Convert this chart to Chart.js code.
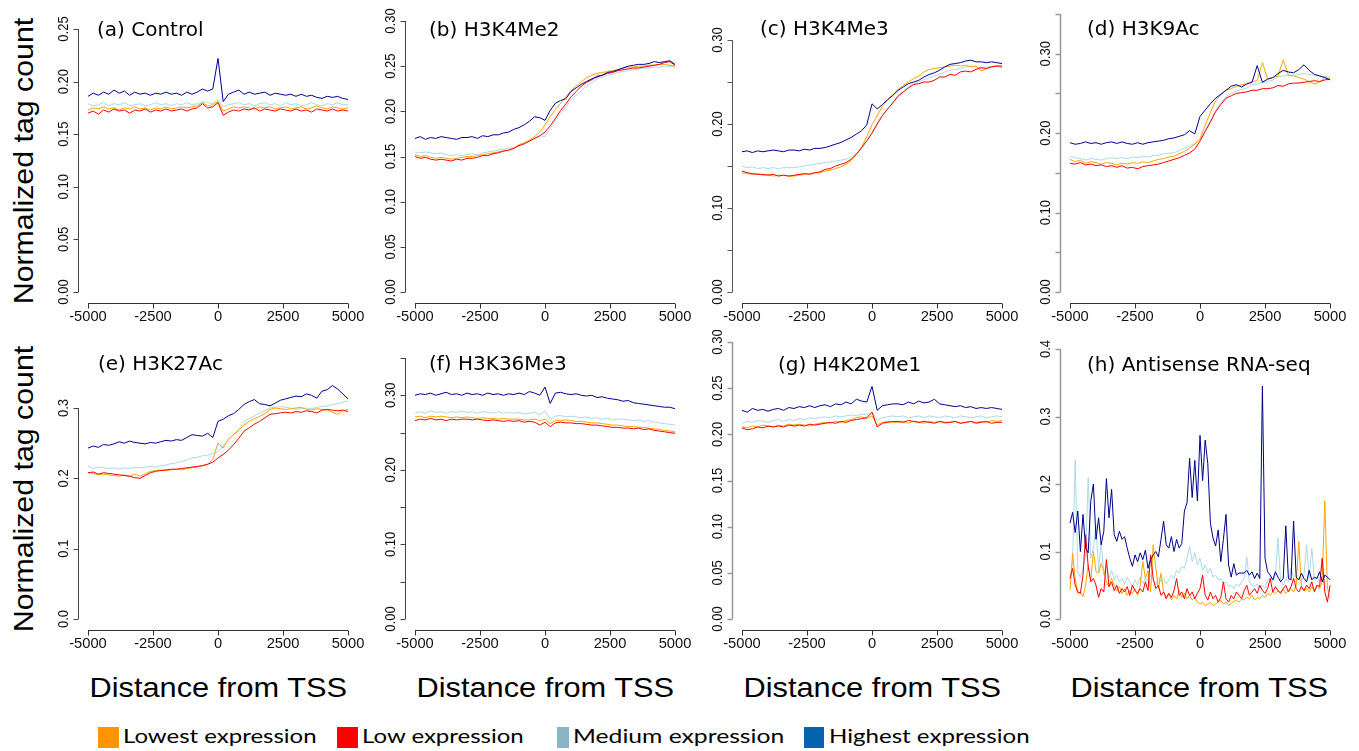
<!DOCTYPE html>
<html lang="en">
<head>
<meta charset="utf-8">
<title>Normalized tag count around the TSS</title>
<script src="https://cdn.jsdelivr.net/npm/chart.js@4.4.0/dist/chart.umd.min.js"></script>
<style>
  body { margin: 0; background: #fff; }
  #page { position: relative; width: 1359px; height: 751px; overflow: hidden; background: #fff; }
  .ttl { position: absolute; font-family: "Liberation Sans", Arial, sans-serif; font-size: 28px; line-height: 28px; white-space: nowrap; color: #000; }
  .leg { position: absolute; font-family: Lato, "Open Sans", sans-serif; font-size: 20px; line-height: 20px; white-space: nowrap; color: #000; transform-origin: 0 50%; }
  .sq { position: absolute; top: 727px; height: 21px; }
</style>
</head>
<body>
<div id="page">
  <div class="ttl ytitle" data-cx="24" data-cy="161" data-w="287">Normalized tag count</div>
  <div class="ttl ytitle" data-cx="24" data-cy="489" data-w="287">Normalized tag count</div>
  <div class="ttl xtitle" data-cx="218" data-w="257">Distance from TSS</div>
  <div class="ttl xtitle" data-cx="545" data-w="257">Distance from TSS</div>
  <div class="ttl xtitle" data-cx="872" data-w="257">Distance from TSS</div>
  <div class="ttl xtitle" data-cx="1199" data-w="257">Distance from TSS</div>

  <div class="sq" style="left:98px;width:21px;background:#ff9400"></div>
  <div class="leg" data-x="123" data-w="193">Lowest expression</div>
  <div class="sq" style="left:337px;width:21px;background:#ff0000"></div>
  <div class="leg" data-x="362" data-w="162">Low expression</div>
  <div class="sq" style="left:557px;width:12px;background:#89b5c6"></div>
  <div class="leg" data-x="573" data-w="211">Medium expression</div>
  <div class="sq" style="left:804px;width:20px;background:#0563b0"></div>
  <div class="leg" data-x="829" data-w="201">Highest expression</div>
</div>

<script>
// x positions of the profile bins (bp from TSS)
const pos200 = [];
for (let x = -5000; x <= 5000; x += 200) pos200.push(x);
const pos100 = [];
for (let x = -5000; x <= 5000; x += 100) pos100.push(x);
const xTicks = [-5000, -2500, 0, 2500, 5000];

// (a) Control
const ctlLowest = [
  .173,.175,.174,.176,.174,.175,.173,.175,.174,.176,
  .174,.175,.173,.175,.174,.176,.174,.175,.176,.175,
  .176,.177,.180,.177,.178,.181,.172,.174,.176,.175,
  .176,.175,.174,.176,.175,.176,.174,.175,.176,.174,
  .175,.176,.174,.175,.177,.175,.174,.176,.175,.174,
  .175];
const ctlLow = [
  .170,.172,.169,.173,.171,.174,.172,.173,.170,.173,
  .172,.174,.171,.173,.172,.174,.172,.173,.174,.172,
  .174,.175,.179,.175,.176,.180,.168,.171,.173,.172,
  .174,.173,.175,.172,.174,.173,.172,.174,.173,.172,
  .174,.172,.173,.171,.174,.173,.172,.174,.172,.173,
  .172];
const ctlMedium = [
  .179,.177,.178,.180,.177,.179,.178,.180,.177,.178,
  .179,.177,.178,.180,.178,.179,.177,.179,.178,.180,
  .178,.179,.181,.180,.179,.183,.176,.178,.179,.180,
  .178,.179,.177,.179,.180,.178,.179,.177,.180,.178,
  .179,.177,.178,.180,.178,.177,.179,.178,.180,.178,
  .178];
const ctlHighest = [
  .186,.189,.187,.190,.188,.192,.189,.191,.187,.190,
  .188,.189,.187,.189,.188,.190,.188,.189,.187,.190,
  .188,.190,.193,.191,.193,.222,.181,.188,.190,.192,
  .188,.190,.188,.189,.190,.187,.189,.188,.187,.188,
  .186,.188,.186,.187,.185,.184,.186,.185,.186,.184,
  .183];

// (b) H3K4Me2
const k4me2Lowest = [
  .152,.150,.151,.149,.148,.149,.148,.147,.148,.149,
  .150,.150,.151,.152,.153,.154,.155,.156,.157,.159,
  .163,.165,.168,.172,.177,.185,.194,.202,.209,.216,
  .223,.228,.233,.237,.240,.242,.243,.244,.245,.246,
  .248,.249,.249,.250,.250,.251,.251,.252,.252,.251,
  .250];
const k4me2Low = [
  .150,.148,.149,.147,.146,.147,.146,.145,.147,.146,
  .148,.148,.149,.151,.151,.153,.154,.156,.157,.159,
  .162,.164,.167,.170,.173,.177,.184,.192,.201,.208,
  .216,.222,.228,.232,.235,.239,.240,.242,.243,.245,
  .246,.247,.248,.248,.249,.250,.251,.252,.254,.255,
  .251];
const k4me2Medium = [
  .155,.154,.155,.154,.153,.154,.152,.151,.152,.151,
  .152,.153,.152,.154,.155,.156,.157,.158,.159,.160,
  .163,.165,.167,.170,.173,.172,.181,.190,.198,.205,
  .212,.218,.223,.228,.232,.236,.238,.240,.241,.243,
  .244,.245,.246,.247,.248,.248,.249,.249,.250,.250,
  .249];
const k4me2Highest = [
  .170,.172,.169,.171,.170,.172,.171,.170,.169,.171,
  .171,.172,.170,.173,.172,.174,.174,.176,.177,.180,
  .182,.185,.189,.194,.193,.190,.201,.209,.212,.214,
  .222,.226,.230,.233,.236,.238,.240,.243,.244,.246,
  .248,.250,.251,.252,.252,.253,.255,.254,.255,.256,
  .252];

// (c) H3K4Me3
const k4me3Lowest = [
  .142,.141,.140,.141,.139,.140,.138,.139,.139,.138,
  .138,.139,.140,.141,.142,.142,.144,.145,.147,.149,
  .152,.157,.164,.172,.185,.199,.210,.221,.229,.235,
  .241,.246,.250,.254,.257,.262,.265,.266,.267,.268,
  .269,.270,.269,.270,.268,.269,.263,.266,.268,.269,
  .267];
const k4me3Low = [
  .144,.142,.141,.140,.140,.139,.140,.138,.139,.138,
  .139,.140,.141,.140,.142,.143,.146,.147,.150,.152,
  .154,.158,.164,.172,.180,.189,.200,.210,.218,.225,
  .233,.238,.243,.247,.248,.250,.250,.252,.256,.256,
  .259,.258,.262,.263,.262,.265,.267,.266,.268,.269,
  .269];
const k4me3Medium = [
  .150,.148,.149,.147,.148,.147,.148,.147,.148,.148,
  .148,.149,.150,.151,.152,.153,.154,.155,.156,.157,
  .158,.161,.165,.170,.180,.191,.201,.210,.218,.226,
  .234,.239,.244,.248,.250,.253,.255,.257,.259,.262,
  .264,.265,.266,.268,.269,.268,.267,.268,.269,.269,
  .269];
const k4me3Highest = [
  .167,.168,.166,.168,.167,.168,.169,.168,.167,.169,
  .169,.168,.170,.169,.171,.171,.172,.174,.176,.178,
  .181,.184,.188,.192,.199,.224,.218,.223,.229,.234,
  .240,.244,.248,.250,.252,.256,.259,.261,.264,.268,
  .271,.272,.273,.275,.276,.274,.274,.273,.274,.273,
  .272];

// (d) H3K9Ac
const k9acLowest = [
  .167,.164,.166,.162,.164,.163,.161,.163,.162,.160,
  .162,.161,.163,.162,.164,.163,.165,.167,.168,.170,
  .171,.174,.177,.181,.186,.193,.210,.226,.241,.248,
  .254,.256,.259,.261,.262,.265,.266,.289,.268,.270,
  .272,.292,.273,.272,.270,.268,.265,.262,.264,.270,
  .268];
const k9acLow = [
  .162,.161,.163,.160,.161,.159,.160,.158,.159,.157,
  .159,.156,.157,.155,.158,.159,.160,.161,.163,.165,
  .167,.169,.172,.175,.180,.190,.202,.214,.227,.236,
  .244,.247,.250,.251,.252,.254,.254,.256,.256,.257,
  .260,.259,.262,.263,.263,.264,.265,.266,.265,.267,
  .268];
const k9acMedium = [
  .171,.169,.168,.166,.168,.167,.166,.168,.169,.168,
  .169,.168,.170,.169,.171,.170,.172,.172,.174,.175,
  .175,.178,.181,.184,.187,.192,.204,.216,.229,.238,
  .246,.250,.253,.255,.257,.261,.262,.264,.265,.267,
  .271,.272,.273,.273,.274,.275,.274,.273,.272,.271,
  .271];
const k9acHighest = [
  .188,.186,.187,.189,.187,.188,.186,.188,.189,.187,
  .189,.187,.186,.188,.186,.188,.189,.190,.191,.193,
  .194,.196,.198,.203,.199,.221,.229,.237,.244,.249,
  .254,.259,.261,.258,.262,.264,.285,.264,.268,.270,
  .275,.279,.277,.276,.280,.286,.279,.274,.272,.270,
  .267];

// (e) H3K27Ac
const k27acLowest = [
  .208,.207,.205,.206,.205,.204,.203,.205,.203,.206,
  .203,.206,.210,.211,.212,.211,.212,.213,.212,.214,
  .215,.216,.218,.220,.227,.250,.243,.256,.262,.268,
  .276,.281,.285,.288,.292,.298,.300,.299,.298,.299,
  .300,.301,.298,.297,.299,.298,.297,.294,.291,.296,
  .298];
const k27acLow = [
  .208,.209,.206,.208,.207,.206,.205,.204,.203,.201,
  .200,.204,.208,.210,.211,.212,.213,.213,.214,.215,
  .216,.217,.218,.220,.223,.229,.234,.240,.248,.257,
  .267,.272,.277,.281,.286,.291,.292,.293,.294,.293,
  .295,.294,.296,.295,.293,.297,.298,.297,.296,.297,
  .295];
const k27acMedium = [
  .217,.214,.216,.215,.214,.215,.213,.215,.214,.216,
  .215,.216,.217,.216,.218,.219,.221,.222,.224,.226,
  .229,.230,.232,.233,.235,.238,.246,.255,.262,.270,
  .281,.285,.289,.293,.296,.300,.301,.302,.301,.300,
  .298,.299,.300,.299,.301,.302,.303,.305,.306,.308,
  .310];
const k27acHighest = [
  .243,.246,.244,.248,.247,.249,.252,.250,.253,.251,
  .250,.249,.251,.250,.252,.254,.253,.255,.254,.258,
  .262,.261,.260,.264,.258,.281,.284,.289,.292,.298,
  .305,.309,.312,.306,.305,.303,.307,.311,.313,.315,
  .317,.316,.320,.318,.314,.324,.326,.332,.327,.320,
  .313];

// (f) H3K36Me3
const k36me3Lowest = [
  .271,.272,.270,.272,.271,.272,.271,.270,.271,.270,
  .271,.270,.269,.270,.269,.269,.268,.269,.268,.268,
  .268,.267,.267,.268,.266,.268,.262,.266,.266,.267,
  .266,.265,.265,.264,.263,.263,.262,.261,.260,.260,
  .259,.258,.258,.257,.257,.256,.255,.254,.253,.252,
  .251];
const k36me3Low = [
  .266,.268,.267,.269,.267,.268,.266,.268,.267,.268,
  .268,.267,.268,.267,.266,.267,.266,.265,.266,.265,
  .266,.264,.265,.264,.260,.264,.258,.263,.264,.263,
  .263,.262,.262,.261,.260,.260,.259,.258,.257,.257,
  .256,.256,.255,.256,.254,.255,.253,.252,.251,.250,
  .249];
const k36me3Medium = [
  .276,.278,.276,.279,.277,.278,.276,.278,.277,.279,
  .277,.278,.276,.278,.277,.276,.278,.276,.277,.276,
  .277,.275,.276,.277,.274,.279,.268,.272,.273,.271,
  .272,.271,.270,.271,.269,.270,.268,.269,.267,.268,
  .268,.267,.266,.267,.265,.266,.264,.263,.262,.261,
  .260];
const k36me3Highest = [
  .300,.302,.301,.303,.300,.302,.304,.301,.302,.300,
  .303,.301,.302,.300,.303,.301,.302,.300,.302,.301,
  .303,.301,.305,.303,.300,.311,.289,.303,.304,.302,
  .301,.302,.300,.299,.300,.297,.298,.296,.295,.294,
  .292,.293,.290,.289,.288,.287,.286,.285,.284,.284,
  .282];

// (g) H4K20Me1
const k20me1Lowest = [
  .208,.207,.209,.208,.210,.209,.208,.210,.209,.211,
  .210,.211,.210,.209,.211,.212,.213,.212,.214,.213,
  .215,.216,.218,.219,.217,.220,.210,.213,.214,.213,
  .213,.214,.212,.214,.213,.212,.214,.213,.214,.212,
  .213,.214,.212,.213,.214,.213,.214,.213,.215,.214,
  .215];
const k20me1Low = [
  .207,.205,.206,.208,.207,.209,.208,.209,.208,.210,
  .209,.210,.209,.211,.210,.211,.212,.213,.212,.214,
  .213,.215,.216,.217,.218,.224,.208,.212,.213,.214,
  .214,.213,.215,.214,.213,.214,.213,.212,.214,.213,
  .213,.214,.212,.213,.214,.212,.213,.214,.212,.213,
  .213];
const k20me1Medium = [
  .212,.214,.213,.215,.214,.213,.215,.216,.214,.216,
  .215,.217,.216,.218,.217,.218,.219,.218,.220,.219,
  .220,.221,.220,.222,.221,.224,.215,.218,.219,.220,
  .219,.220,.218,.219,.220,.218,.220,.219,.218,.220,
  .219,.218,.220,.219,.218,.219,.220,.218,.219,.220,
  .219];
const k20me1Highest = [
  .226,.224,.228,.226,.227,.225,.227,.228,.226,.229,
  .228,.230,.229,.231,.229,.231,.232,.230,.233,.232,
  .235,.233,.238,.236,.235,.252,.226,.231,.232,.233,
  .233,.232,.235,.233,.236,.234,.235,.238,.233,.232,
  .231,.230,.231,.229,.230,.228,.229,.228,.229,.228,
  .227];

// (h) Antisense RNA-seq (100 bp bins)
const asLowest = [
  .043,.097,.060,.038,.040,.033,.050,.080,.058,.100,
  .070,.068,.082,.072,.055,.048,.060,.050,.042,.048,
  .038,.045,.035,.042,.038,.045,.035,.050,.085,.060,
  .072,.040,.110,.075,.045,.068,.040,.032,.038,.028,
  .035,.030,.042,.032,.038,.030,.035,.028,.032,.025,
  .022,.025,.020,.022,.025,.020,.022,.025,.028,.022,
  .025,.020,.023,.026,.028,.025,.030,.028,.032,.030,
  .035,.028,.032,.030,.035,.032,.038,.035,.040,.038,
  .042,.040,.045,.038,.042,.045,.040,.050,.115,.048,
  .042,.045,.040,.048,.042,.050,.045,.055,.175,.045,
  .040];
const asLow = [
  .060,.075,.050,.040,.038,.065,.125,.078,.055,.060,
  .050,.032,.045,.040,.088,.048,.055,.042,.050,.038,
  .045,.040,.048,.035,.050,.042,.038,.045,.040,.055,
  .042,.095,.060,.045,.050,.035,.040,.030,.038,.032,
  .042,.060,.035,.040,.030,.045,.035,.040,.030,.038,
  .045,.065,.035,.028,.040,.030,.035,.025,.032,.055,
  .030,.025,.035,.030,.040,.035,.030,.042,.050,.035,
  .040,.045,.038,.050,.042,.038,.045,.060,.040,.048,
  .042,.038,.045,.050,.040,.048,.060,.045,.040,.048,
  .042,.050,.045,.055,.040,.050,.048,.090,.040,.025,
  .050];
const asMedium = [
  .060,.085,.235,.070,.062,.075,.095,.210,.090,.105,
  .140,.070,.115,.065,.080,.060,.072,.058,.065,.055,
  .060,.052,.062,.055,.048,.058,.050,.062,.052,.060,
  .055,.065,.058,.050,.062,.055,.060,.052,.058,.065,
  .060,.072,.068,.078,.075,.090,.108,.085,.098,.080,
  .090,.072,.080,.068,.075,.062,.065,.058,.060,.052,
  .055,.048,.050,.045,.052,.048,.055,.060,.092,.055,
  .050,.048,.052,.045,.050,.045,.058,.062,.055,.065,
  .120,.055,.050,.060,.055,.075,.062,.058,.060,.055,
  .065,.110,.060,.105,.058,.062,.055,.090,.050,.045,
  .030];
const asHighest = [
  .142,.158,.128,.160,.100,.155,.105,.098,.175,.200,
  .118,.150,.110,.130,.208,.150,.192,.125,.115,.130,
  .118,.122,.105,.090,.078,.095,.085,.098,.088,.102,
  .075,.088,.095,.100,.092,.118,.145,.110,.105,.122,
  .100,.118,.105,.112,.160,.172,.238,.180,.235,.175,
  .272,.205,.265,.230,.142,.120,.108,.132,.085,.118,
  .155,.080,.062,.082,.065,.068,.068,.068,.072,.065,
  .070,.060,.068,.060,.345,.090,.070,.065,.058,.070,
  .062,.055,.060,.138,.060,.058,.145,.062,.058,.068,
  .060,.055,.072,.058,.062,.060,.070,.055,.065,.062,
  .058];

const groups = [
  { name: 'Lowest expression',  line: '#ffa500', order: 3 },
  { name: 'Low expression',     line: '#ff0000', order: 2 },
  { name: 'Medium expression',  line: '#add8e6', order: 4 },
  { name: 'Highest expression', line: '#00008b', order: 1 }
];

const t05 = n => Array.from({ length: n + 1 }, (_, i) => +(i * 0.05).toFixed(2));

// box = canvas [left, top, w, h]; area = plot [left, right, top(yMax), bottom(0)]
const panels = [
  { title: '(a) Control', tx: 97, ty: 36, box: [16, 0, 359, 330], area: [88, 348, 29, 292], yMax: .25,
    yTicks: t05(5), yLabeled: t05(5), dec: 2, axisCol: '#444', pos: pos200,
    series: [ctlLowest, ctlLow, ctlMedium, ctlHighest] },
  { title: '(b) H3K4Me2', tx: 429, ty: 36, box: [375, 0, 328, 330], area: [415, 675, 21, 292], yMax: .30,
    yTicks: t05(6), yLabeled: t05(6), dec: 2, axisCol: '#444', pos: pos200,
    series: [k4me2Lowest, k4me2Low, k4me2Medium, k4me2Highest] },
  { title: '(c) H3K4Me3', tx: 760, ty: 35, box: [703, 0, 332, 330], area: [742, 1002, 40, 292], yMax: .30,
    yTicks: t05(6), yLabeled: [0, .1, .2, .3], dec: 2, axisCol: '#555', pos: pos200,
    series: [k4me3Lowest, k4me3Low, k4me3Medium, k4me3Highest] },
  { title: '(d) H3K9Ac', tx: 1087, ty: 35, box: [1035, 0, 324, 330], area: [1070, 1330, 14, 292], yMax: .35,
    yTicks: t05(7), yLabeled: [0, .1, .2, .3], dec: 2, axisCol: '#999', pos: pos200,
    series: [k9acLowest, k9acLow, k9acMedium, k9acHighest] },
  { title: '(e) H3K27Ac', tx: 98, ty: 370, box: [16, 330, 359, 330], area: [88, 348, 408, 619], yMax: .30,
    yTicks: [0, .1, .2, .3], yLabeled: [0, .1, .2, .3], dec: 1, axisCol: '#444', pos: pos200,
    series: [k27acLowest, k27acLow, k27acMedium, k27acHighest] },
  { title: '(f) H3K36Me3', tx: 429, ty: 370, box: [375, 330, 328, 330], area: [415, 675, 358, 619], yMax: .35,
    yTicks: t05(7), yLabeled: [0, .1, .2, .3], dec: 2, axisCol: '#444', pos: pos200,
    series: [k36me3Lowest, k36me3Low, k36me3Medium, k36me3Highest] },
  { title: '(g) H4K20Me1', tx: 778, ty: 371, box: [703, 330, 332, 330], area: [742, 1002, 342, 619], yMax: .30,
    yTicks: t05(6), yLabeled: t05(6), dec: 2, axisCol: '#999', pos: pos200,
    series: [k20me1Lowest, k20me1Low, k20me1Medium, k20me1Highest] },
  { title: '(h) Antisense RNA-seq', tx: 1087, ty: 371, box: [1035, 330, 324, 330], area: [1070, 1330, 349, 619], yMax: .40,
    yTicks: [0, .1, .2, .3, .4], yLabeled: [0, .1, .2, .3, .4], dec: 1, axisCol: '#999', pos: pos100,
    series: [asLowest, asLow, asMedium, asHighest] }
];

// R-style detached axes, drawn from the chart's own scales
const rAxes = {
  id: 'rAxes',
  afterDraw(chart, args, o) {
    const { ctx, chartArea } = chart;
    const xs = chart.scales.x, ys = chart.scales.y;
    ctx.save();
    ctx.fillStyle = '#111';

    // y axis
    const ax = Math.round(chartArea.left - 10) + 0.5;
    ctx.strokeStyle = o.axisCol;
    ctx.lineWidth = o.axisCol === '#999' ? 1.5 : 1;
    ctx.beginPath();
    ctx.moveTo(ax, ys.getPixelForValue(o.yTicks[o.yTicks.length - 1]));
    ctx.lineTo(ax, ys.getPixelForValue(o.yTicks[0]));
    o.yTicks.forEach(v => {
      const py = Math.round(ys.getPixelForValue(v)) + 0.5;
      ctx.moveTo(ax, py);
      ctx.lineTo(ax - 5, py);
    });
    ctx.stroke();

    ctx.font = '14px "Liberation Sans", Arial, sans-serif';
    ctx.textAlign = 'center';
    ctx.textBaseline = 'alphabetic';
    o.yTicks.forEach(v => {
      if (!o.yLabeled.some(l => Math.abs(l - v) < 1e-9)) return;
      ctx.save();
      ctx.translate(ax - 11, ys.getPixelForValue(v));
      ctx.rotate(-Math.PI / 2);
      ctx.scale(0.93, 1);
      ctx.fillText(v.toFixed(o.dec), 0, 0);
      ctx.restore();
    });

    // x axis
    const ay = Math.round(chartArea.bottom + 11) + 0.5;
    ctx.strokeStyle = '#333';
    ctx.lineWidth = 1;
    ctx.beginPath();
    ctx.moveTo(xs.getPixelForValue(xTicks[0]), ay);
    ctx.lineTo(xs.getPixelForValue(xTicks[xTicks.length - 1]), ay);
    xTicks.forEach(v => {
      const px = Math.round(xs.getPixelForValue(v)) + 0.5;
      ctx.moveTo(px, ay);
      ctx.lineTo(px, ay + 5);
    });
    ctx.stroke();
    xTicks.forEach(v => {
      ctx.save();
      ctx.translate(xs.getPixelForValue(v), ay + 17);
      ctx.scale(1.05, 1);
      ctx.fillText(String(v), 0, 0);
      ctx.restore();
    });

    // panel title
    ctx.fillStyle = '#000';
    ctx.font = '20px "DejaVu Sans", sans-serif';
    ctx.textAlign = 'left';
    ctx.fillText(o.title, o.tx, o.ty);
    ctx.restore();
  }
};

const page = document.getElementById('page');

panels.forEach(p => {
  const [bl, bt, bw, bh] = p.box;
  const [L, R, T, B] = p.area;
  const cv = document.createElement('canvas');
  cv.width = bw;
  cv.height = bh;
  cv.style.cssText = `position:absolute;left:${bl}px;top:${bt}px;width:${bw}px;height:${bh}px`;
  page.appendChild(cv);

  new Chart(cv, {
    type: 'line',
    data: {
      datasets: groups.map((g, k) => ({
        label: g.name,
        data: p.series[k].map((v, i) => ({ x: p.pos[i], y: v })),
        borderColor: g.line,
        borderWidth: 1,
        pointRadius: 0,
        tension: 0,
        fill: false,
        clip: false,
        order: g.order
      }))
    },
    options: {
      responsive: false,
      animation: false,
      devicePixelRatio: 1,
      events: [],
      layout: { padding: { left: L - bl, right: bl + bw - R, top: T - bt, bottom: bt + bh - B } },
      scales: {
        x: { type: 'linear', display: false, min: -5000, max: 5000 },
        y: { type: 'linear', display: false, min: 0, max: p.yMax }
      },
      plugins: {
        legend: { display: false },
        tooltip: { enabled: false },
        rAxes: {
          title: p.title, tx: p.tx - bl, ty: p.ty - bt,
          yTicks: p.yTicks, yLabeled: p.yLabeled, dec: p.dec, axisCol: p.axisCol
        }
      }
    },
    plugins: [rAxes]
  });
});

// stretch the page-level texts to the widths they have in the figure
document.querySelectorAll('.ytitle').forEach(el => {
  const w = el.offsetWidth;
  const k = +el.dataset.w / w;
  el.style.left = (+el.dataset.cx - w / 2) + 'px';
  el.style.top = (+el.dataset.cy - 14) + 'px';
  el.style.transform = `rotate(-90deg) scaleX(${k})`;
});
document.querySelectorAll('.xtitle').forEach(el => {
  const w = el.offsetWidth;
  const k = +el.dataset.w / w;
  el.style.left = (+el.dataset.cx - w / 2) + 'px';
  el.style.top = (698 - 0.8465 * 28) + 'px';
  el.style.transform = `scaleX(${k})`;
});
document.querySelectorAll('.leg').forEach(el => {
  const w = el.offsetWidth;
  const k = +el.dataset.w / w;
  el.style.left = el.dataset.x + 'px';
  el.style.top = (743 - 0.887 * 20) + 'px';
  el.style.transform = `scaleX(${k})`;
});
</script>
</body>
</html>
